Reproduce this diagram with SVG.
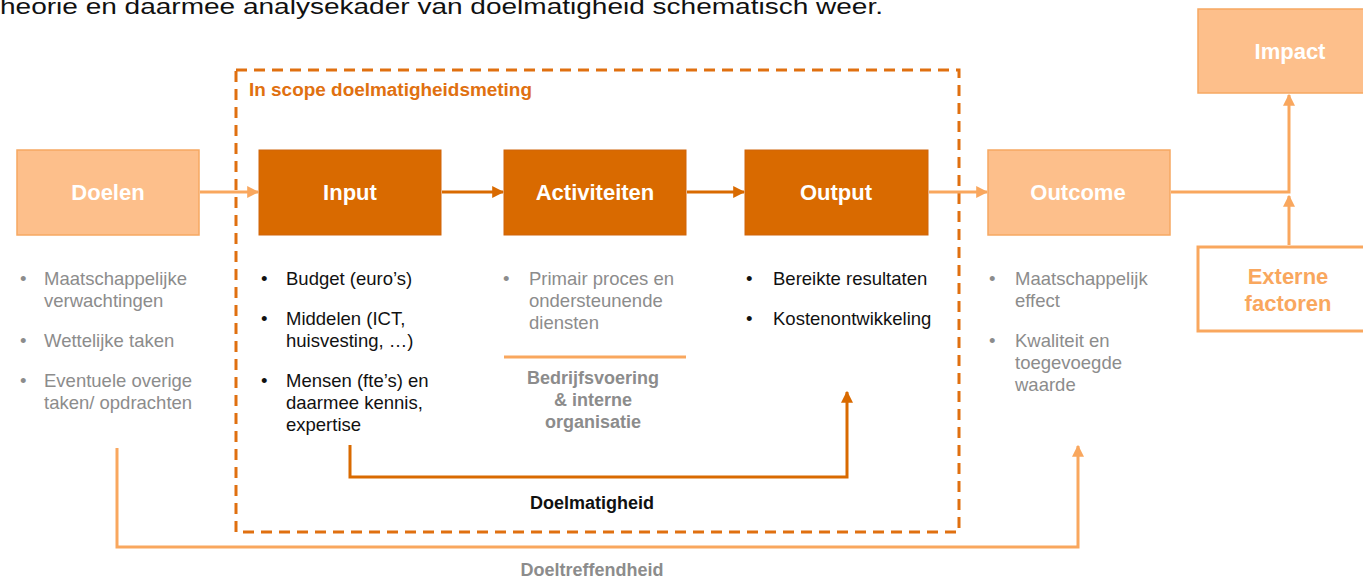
<svg xmlns="http://www.w3.org/2000/svg" width="1363" height="580" viewBox="0 0 1363 580">
<defs>
<marker id="ad" viewBox="0 0 10 10" refX="9" refY="5" markerWidth="4" markerHeight="4" orient="auto" markerUnits="strokeWidth"><path d="M0,0 L10,5 L0,10 z" fill="#D96A00"/></marker>
<marker id="al" viewBox="0 0 10 10" refX="9" refY="5" markerWidth="4" markerHeight="4" orient="auto" markerUnits="strokeWidth"><path d="M0,0 L10,5 L0,10 z" fill="#F9A75E"/></marker>
</defs>
<style>
.dark{fill:#D96A00;stroke:#D0650A;stroke-width:1}
.light{fill:#FDBF8B;stroke:#F6A862;stroke-width:1.5}
.lbl{font-family:"Liberation Sans",Arial,sans-serif;font-weight:bold;font-size:22px;fill:#fff;text-anchor:middle}
.t{font-family:"Liberation Sans",Arial,sans-serif;font-size:18.5px}
.g{fill:#8C8C8C}
.k{fill:#111}
.b{font-family:"Liberation Sans",Arial,sans-serif;font-weight:bold;font-size:18px;text-anchor:middle}
.cd{fill:none;stroke:#D96A00;stroke-width:3}
.cl{fill:none;stroke:#F9A75E;stroke-width:3}
</style>
<rect width="1363" height="580" fill="#fff"/>
<text x="0" y="14" font-family="'Liberation Sans',Arial,sans-serif" font-size="22" fill="#111" textLength="883" lengthAdjust="spacingAndGlyphs">heorie en daarmee analysekader van doelmatigheid schematisch weer.</text>

<g id="scope">
<rect x="236" y="70" width="723" height="462" fill="none" stroke="#E07010" stroke-width="3" stroke-dasharray="11,7"/>
<text x="249" y="96" font-family="'Liberation Sans',Arial,sans-serif" font-weight="bold" font-size="18" fill="#E07010" textLength="283" lengthAdjust="spacingAndGlyphs">In scope doelmatigheidsmeting</text>
</g>

<g id="connectors">
<line x1="200" y1="192" x2="258" y2="192" class="cl" marker-end="url(#al)"/>
<line x1="442" y1="192" x2="503" y2="192" class="cd" marker-end="url(#ad)"/>
<line x1="687" y1="192" x2="744" y2="192" class="cd" marker-end="url(#ad)"/>
<line x1="929" y1="192" x2="987" y2="192" class="cl" marker-end="url(#al)"/>
<polyline points="1171,192 1289,192 1289,95" class="cl" marker-end="url(#al)"/>
<line x1="1289" y1="245" x2="1289" y2="196" class="cl" marker-end="url(#al)"/>
<polyline points="350,445 350,477 847,477 847,392" class="cd" marker-end="url(#ad)"/>
<polyline points="117,448 117,547 1078,547 1078,446" class="cl" marker-end="url(#al)"/>
<line x1="504" y1="357" x2="686" y2="357" stroke="#F9A75E" stroke-width="3"/>
</g>

<g id="doelen">
<rect x="17" y="150" width="182" height="85" class="light"/>
<text x="108" y="200" class="lbl">Doelen</text>
<g class="t g">
<text x="20" y="285">•</text><text x="44" y="285">Maatschappelijke</text>
<text x="44" y="307">verwachtingen</text>
<text x="20" y="347">•</text><text x="44" y="347">Wettelijke taken</text>
<text x="20" y="387">•</text><text x="44" y="387">Eventuele overige</text>
<text x="44" y="409">taken/ opdrachten</text>
</g>
</g>

<g id="input">
<rect x="259" y="150" width="182" height="85" class="dark"/>
<text x="350" y="200" class="lbl">Input</text>
<g class="t k">
<text x="261" y="285">•</text><text x="286" y="285">Budget (euro’s)</text>
<text x="261" y="325">•</text><text x="286" y="325">Middelen (ICT,</text>
<text x="286" y="347">huisvesting, …)</text>
<text x="261" y="387">•</text><text x="286" y="387">Mensen (fte’s) en</text>
<text x="286" y="409">daarmee kennis,</text>
<text x="286" y="431">expertise</text>
</g>
</g>

<g id="activiteiten">
<rect x="504" y="150" width="182" height="85" class="dark"/>
<text x="595" y="200" class="lbl">Activiteiten</text>
<g class="t g">
<text x="503" y="285">•</text><text x="529" y="285">Primair proces en</text>
<text x="529" y="307">ondersteunende</text>
<text x="529" y="329">diensten</text>
</g>
<g class="b g">
<text x="593" y="384">Bedrijfsvoering</text>
<text x="593" y="406">&amp; interne</text>
<text x="593" y="428">organisatie</text>
</g>
</g>

<g id="output">
<rect x="745" y="150" width="183" height="85" class="dark"/>
<text x="836" y="200" class="lbl">Output</text>
<g class="t k">
<text x="746" y="285">•</text><text x="773" y="285">Bereikte resultaten</text>
<text x="746" y="325">•</text><text x="773" y="325">Kostenontwikkeling</text>
</g>
</g>

<g id="outcome">
<rect x="988" y="150" width="182" height="85" class="light"/>
<text x="1078" y="200" class="lbl">Outcome</text>
<g class="t g">
<text x="989" y="285">•</text><text x="1015" y="285">Maatschappelijk</text>
<text x="1015" y="307">effect</text>
<text x="989" y="347">•</text><text x="1015" y="347">Kwaliteit en</text>
<text x="1015" y="369">toegevoegde</text>
<text x="1015" y="391">waarde</text>
</g>
</g>

<g id="impact">
<rect x="1198" y="9" width="170" height="84" class="light"/>
<text x="1290" y="59" class="lbl">Impact</text>
</g>

<g id="externe">
<rect x="1198" y="247" width="170" height="84" fill="#fff" stroke="#F9A75E" stroke-width="3"/>
<text x="1288" y="284" class="lbl" style="fill:#F9A75E">Externe</text>
<text x="1288" y="311" class="lbl" style="fill:#F9A75E">factoren</text>
</g>

<g id="labels">
<text x="592" y="509" class="b k">Doelmatigheid</text>
<text x="592" y="576" class="b g">Doeltreffendheid</text>
</g>
</svg>
